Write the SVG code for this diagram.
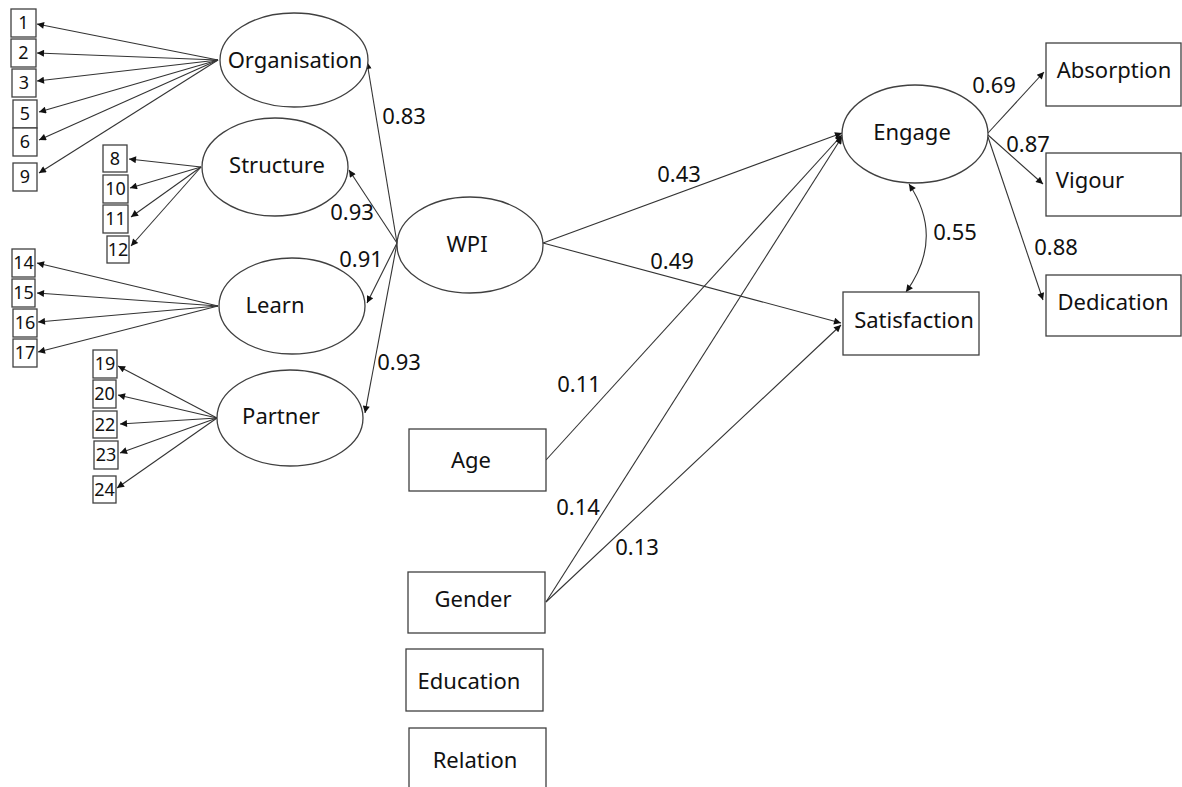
<svg xmlns="http://www.w3.org/2000/svg" width="1182" height="787" viewBox="0 0 1182 787">
<style>
.sh{fill:#fff;stroke:#404040;stroke-width:1.3}
.ln{fill:none;stroke:#333;stroke-width:1.1;marker-end:url(#ah)}
.t{font-family:"Noto Sans","Open Sans","Liberation Sans",sans-serif;font-size:22px;fill:#111;text-anchor:middle}
.n{font-family:"Noto Sans","Open Sans","Liberation Sans",sans-serif;font-size:18px;fill:#111;text-anchor:middle}
</style>
<defs>
<marker id="ah" viewBox="0 0 10 10" refX="10" refY="5" markerWidth="9" markerHeight="7" markerUnits="userSpaceOnUse" orient="auto-start-reverse">
<path d="M0,0 L10,5 L0,10 z" fill="#111"/>
</marker>
</defs>
<rect width="1182" height="787" fill="#fff"/>
<g id="connectors">
<path class="ln" d="M218,60 L37,24"/>
<path class="ln" d="M218,60 L37,53"/>
<path class="ln" d="M218,60 L37,81"/>
<path class="ln" d="M218,60 L39,112"/>
<path class="ln" d="M218,60 L39,140"/>
<path class="ln" d="M218,60 L39,173"/>
<path class="ln" d="M201,167 L129,159"/>
<path class="ln" d="M201,167 L130,188"/>
<path class="ln" d="M201,167 L131,217"/>
<path class="ln" d="M201,167 L131,246"/>
<path class="ln" d="M218,306 L37,263"/>
<path class="ln" d="M218,306 L37,293"/>
<path class="ln" d="M218,306 L38,322"/>
<path class="ln" d="M218,306 L38,352"/>
<path class="ln" d="M217,418 L118,366"/>
<path class="ln" d="M217,418 L118,395"/>
<path class="ln" d="M217,418 L120,424"/>
<path class="ln" d="M217,418 L120,453"/>
<path class="ln" d="M217,418 L117,488"/>
<path class="ln" d="M397,243 L367,62"/>
<path class="ln" d="M397,243 L349,170"/>
<path class="ln" d="M397,243 L367,303"/>
<path class="ln" d="M397,243 L365,413"/>
<path class="ln" d="M543,243 L842,133"/>
<path class="ln" d="M543,243 L841,323"/>
<path class="ln" d="M546,460 L842,135"/>
<path class="ln" d="M546,602 L842,137"/>
<path class="ln" d="M546,602 L841,325"/>
<path class="ln" d="M988,133 L1044,72"/>
<path class="ln" d="M988,135 L1043,184"/>
<path class="ln" d="M988,137 L1043,300"/>
<path class="ln" d="M909,184 Q945,238 906,292" marker-start="url(#ah)"/>
<text class="t" x="404" y="124">0.83</text>
<text class="t" x="352" y="220">0.93</text>
<text class="t" x="361" y="267">0.91</text>
<text class="t" x="399" y="370">0.93</text>
<text class="t" x="679" y="182">0.43</text>
<text class="t" x="672" y="269">0.49</text>
<text class="t" x="579" y="392">0.11</text>
<text class="t" x="578" y="515">0.14</text>
<text class="t" x="637" y="555">0.13</text>
<text class="t" x="994" y="93">0.69</text>
<text class="t" x="1028" y="152">0.87</text>
<text class="t" x="1056" y="255">0.88</text>
<text class="t" x="955" y="240">0.55</text>
</g>
<g id="i1"><rect class="sh" x="11" y="9" width="25" height="28"/><text class="n" x="23.5" y="29">1</text></g>
<g id="i2"><rect class="sh" x="11" y="39" width="25" height="28"/><text class="n" x="23.5" y="59">2</text></g>
<g id="i3"><rect class="sh" x="12" y="69" width="24" height="28"/><text class="n" x="24" y="89">3</text></g>
<g id="i5"><rect class="sh" x="13" y="100" width="24" height="28"/><text class="n" x="25" y="120">5</text></g>
<g id="i6"><rect class="sh" x="13" y="128" width="24" height="28"/><text class="n" x="25" y="148">6</text></g>
<g id="i9"><rect class="sh" x="13" y="163" width="24" height="28"/><text class="n" x="25" y="183">9</text></g>
<g id="i8"><rect class="sh" x="103" y="145" width="24" height="27"/><text class="n" x="115" y="165">8</text></g>
<g id="i10"><rect class="sh" x="103" y="175" width="25" height="28"/><text class="n" x="115.5" y="195">10</text></g>
<g id="i11"><rect class="sh" x="103" y="205" width="25" height="28"/><text class="n" x="115.5" y="225">11</text></g>
<g id="i12"><rect class="sh" x="107" y="236" width="22" height="27"/><text class="n" x="118" y="256">12</text></g>
<g id="i14"><rect class="sh" x="12" y="249" width="23" height="28"/><text class="n" x="23.5" y="269">14</text></g>
<g id="i15"><rect class="sh" x="12" y="279" width="23" height="28"/><text class="n" x="23.5" y="299">15</text></g>
<g id="i16"><rect class="sh" x="13" y="309" width="24" height="28"/><text class="n" x="25" y="329">16</text></g>
<g id="i17"><rect class="sh" x="13" y="339" width="24" height="28"/><text class="n" x="25" y="359">17</text></g>
<g id="i19"><rect class="sh" x="93" y="350" width="24" height="28"/><text class="n" x="105" y="370">19</text></g>
<g id="i20"><rect class="sh" x="93" y="380" width="23" height="28"/><text class="n" x="104.5" y="400">20</text></g>
<g id="i22"><rect class="sh" x="93" y="411" width="24" height="27"/><text class="n" x="105" y="431">22</text></g>
<g id="i23"><rect class="sh" x="94" y="441" width="24" height="28"/><text class="n" x="106" y="461">23</text></g>
<g id="i24"><rect class="sh" x="93" y="476" width="23" height="27"/><text class="n" x="104.5" y="496">24</text></g>
<g id="organisation"><ellipse class="sh" cx="294" cy="60" rx="74" ry="47"/><text class="t" x="295" y="68">Organisation</text></g>
<g id="structure"><ellipse class="sh" cx="275" cy="167" rx="73" ry="49"/><text class="t" x="277" y="173">Structure</text></g>
<g id="learn"><ellipse class="sh" cx="292" cy="306" rx="73" ry="48"/><text class="t" x="275" y="313">Learn</text></g>
<g id="partner"><ellipse class="sh" cx="290" cy="418" rx="73" ry="48"/><text class="t" x="281" y="424">Partner</text></g>
<g id="wpi"><ellipse class="sh" cx="470" cy="245" rx="73" ry="48"/><text class="t" x="467" y="252">WPI</text></g>
<g id="engage"><ellipse class="sh" cx="915" cy="134" rx="73" ry="49"/><text class="t" x="912" y="140">Engage</text></g>
<g id="absorption"><rect class="sh" x="1046" y="43" width="135" height="63"/><text class="t" x="1114" y="78">Absorption</text></g>
<g id="vigour"><rect class="sh" x="1046" y="153" width="135" height="63"/><text class="t" x="1090" y="188">Vigour</text></g>
<g id="dedication"><rect class="sh" x="1046" y="275" width="135" height="61"/><text class="t" x="1113" y="310">Dedication</text></g>
<g id="satisfaction"><rect class="sh" x="843" y="292" width="136" height="63"/><text class="t" x="914" y="328">Satisfaction</text></g>
<g id="age"><rect class="sh" x="409" y="429" width="137" height="62"/><text class="t" x="471" y="468">Age</text></g>
<g id="gender"><rect class="sh" x="408" y="572" width="137" height="61"/><text class="t" x="473" y="607">Gender</text></g>
<g id="education"><rect class="sh" x="406" y="649" width="137" height="62"/><text class="t" x="469" y="689">Education</text></g>
<g id="relation"><rect class="sh" x="409" y="728" width="137" height="70"/><text class="t" x="475" y="768">Relation</text></g>
</svg>
